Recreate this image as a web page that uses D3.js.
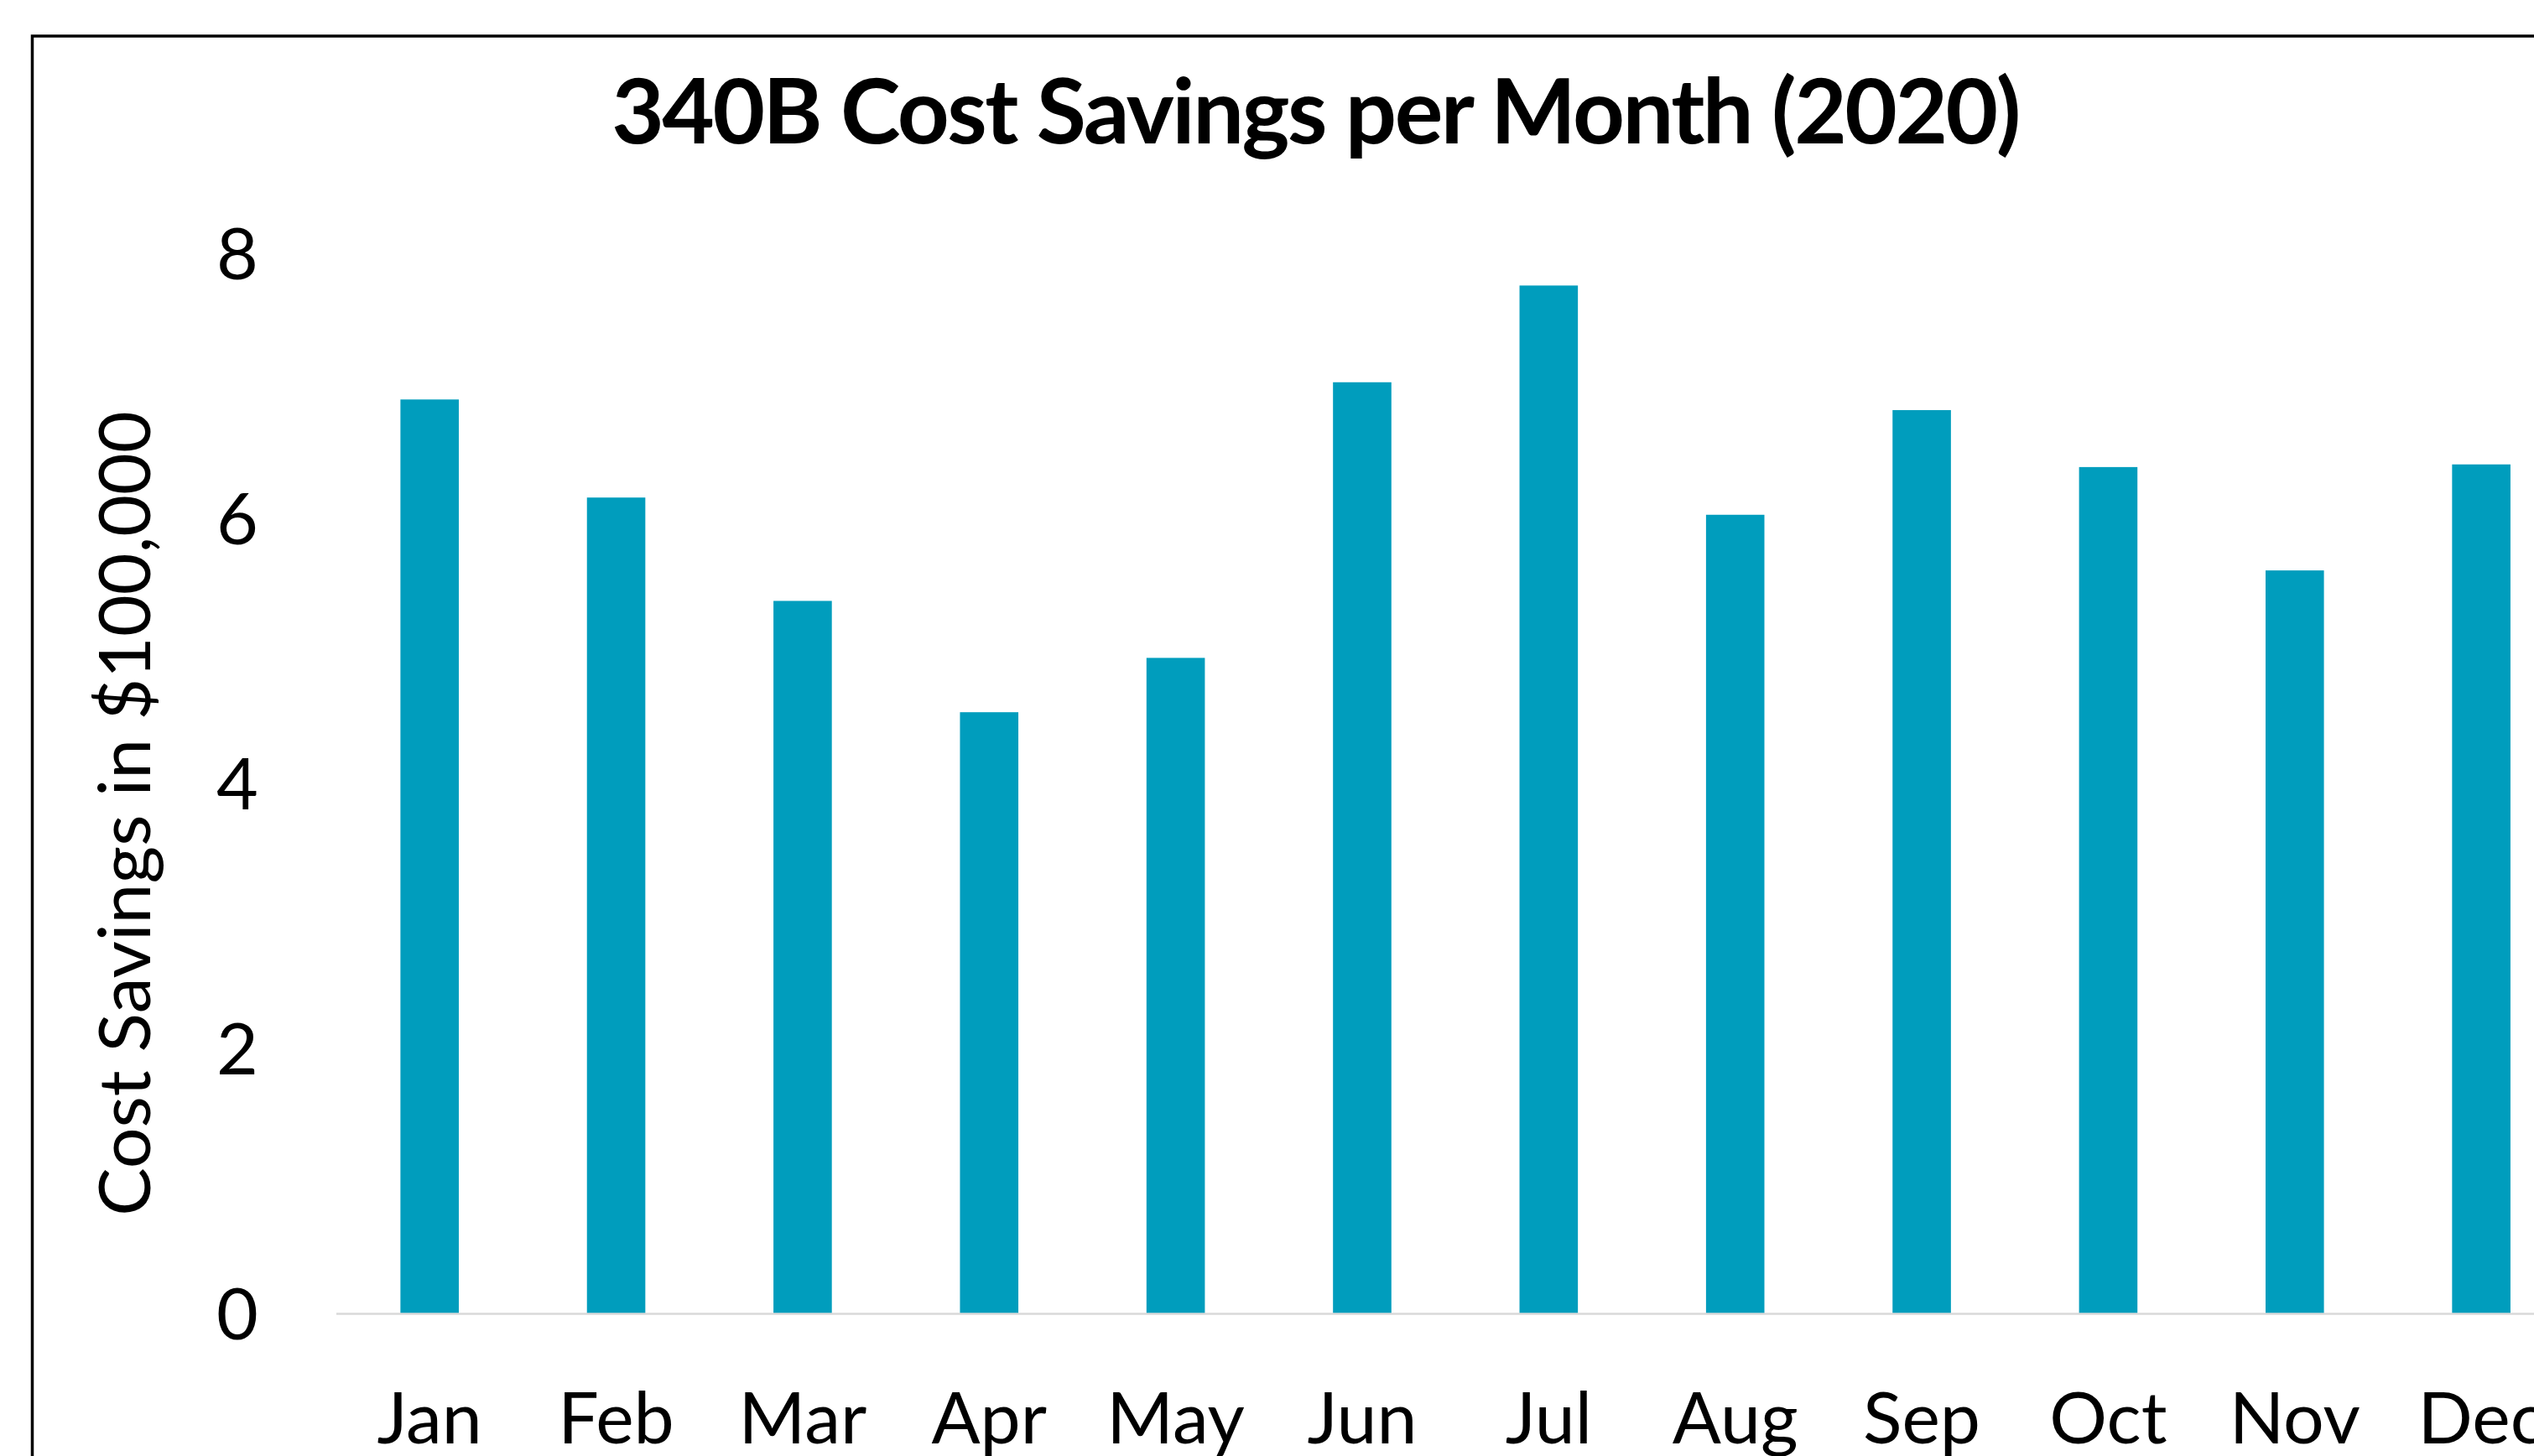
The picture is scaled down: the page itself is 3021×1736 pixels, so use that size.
<!DOCTYPE html>
<html>
<head>
<meta charset="utf-8">
<script src="https://cdn.jsdelivr.net/npm/d3@7"></script>
<style>
  html, body { margin: 0; padding: 0; background: #ffffff; }
  svg { display: block; }
</style>
</head>
<body>
<script>
// ---- data ----
const months = ["Jan", "Feb", "Mar", "Apr", "May", "Jun", "Jul", "Aug", "Sep", "Oct", "Nov", "Dec"];
const savings = [6.90, 6.16, 5.38, 4.54, 4.95, 7.03, 7.76, 6.03, 6.82, 6.39, 5.61, 6.41];
const yTicks = [0, 2, 4, 6, 8];
const titleText = "340B Cost Savings per Month (2020)";
const yTitleText = "Cost Savings in $100,000";

// ---- layout ----
const W = 3021, H = 1736;
const FONT = "Lato, 'Open Sans', sans-serif";
const svg = d3.select("body").append("svg").attr("width", W).attr("height", H);

svg.append("rect").attr("x", 0).attr("y", 0).attr("width", W).attr("height", H).attr("fill", "#fff");

// chart border (cropped on right and bottom)
svg.append("rect")
  .attr("x", 38.5).attr("y", 43)
  .attr("width", W + 100).attr("height", H + 100)
  .attr("fill", "none").attr("stroke", "#000").attr("stroke-width", 3.5);

const x = d3.scaleBand()
  .domain(months)
  .range([401, 401 + 12 * 222.36])
  .paddingInner(0.687)
  .paddingOuter(0.687 / 2);

const y = d3.scaleLinear().domain([0, 8]).range([1566.5, 302.5]);

// title
svg.append("text")
  .attr("x", 1568).attr("y", 171)
  .attr("text-anchor", "middle")
  .attr("font-family", FONT).attr("font-weight", "bold")
  .attr("font-size", 108)
  .attr("letter-spacing", -2.5)
  .attr("fill", "#000")
  .text(titleText);

// bars
svg.append("g").selectAll("rect")
  .data(months.map((m, i) => ({ m, v: savings[i] })))
  .join("rect")
  .attr("x", d => x(d.m))
  .attr("y", d => y(d.v))
  .attr("width", x.bandwidth())
  .attr("height", d => y(0) - y(d.v))
  .attr("fill", "#009DBD");

// baseline axis line
svg.append("line")
  .attr("x1", 401).attr("x2", W + 10)
  .attr("y1", y(0)).attr("y2", y(0))
  .attr("stroke", "#d9d9d9").attr("stroke-width", 2.5);

// y axis labels
const yAxis = d3.axisLeft(y).tickValues(yTicks).tickSize(0).tickPadding(0).tickFormat(d3.format("d"));
const yg = svg.append("g").attr("transform", "translate(308,0)").call(yAxis);
yg.select(".domain").remove();
yg.selectAll("text")
  .attr("font-family", FONT).attr("font-size", 86)
  .attr("fill", "#000").attr("dy", "0.35em");

// x axis labels
const xAxis = d3.axisBottom(x).tickSize(0).tickPadding(0);
const xg = svg.append("g").attr("transform", "translate(0,1721)").call(xAxis);
xg.select(".domain").remove();
xg.selectAll("text")
  .attr("font-family", FONT).attr("font-size", 86)
  .attr("fill", "#000").attr("dy", 0).attr("y", 0);

// y axis title
svg.append("text")
  .attr("transform", "translate(179,970) rotate(-90)")
  .attr("text-anchor", "middle")
  .attr("font-family", FONT).attr("font-size", 86)
  .attr("fill", "#000")
  .text(yTitleText);
</script>
</body>
</html>
